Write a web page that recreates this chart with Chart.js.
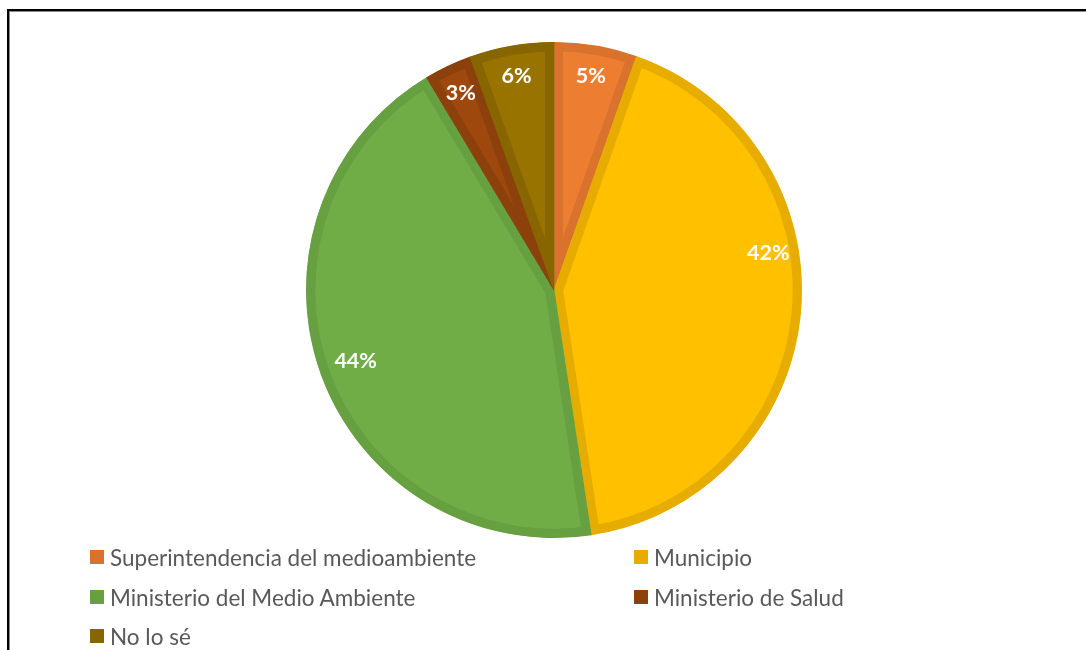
<!DOCTYPE html>
<html>
<head>
<meta charset="utf-8">
<script src="https://cdn.jsdelivr.net/npm/chart.js@4.4.1/dist/chart.umd.min.js"></script>
<style>
  html, body { margin:0; padding:0; background:#fff; }
  #wrap { position:relative; width:1086px; height:650px; overflow:hidden; }
  #frame { position:absolute; left:7px; top:9px; width:1200px; height:700px; border-left:2px solid #000; border-top:2px solid #000; box-shadow: 1px 1px 0 #888 inset; }
  #c { position:absolute; left:0; top:0; }
  #legend { position:absolute; left:0; top:0; width:1086px; height:650px; font-family: Lato, "Open Sans", sans-serif; font-size:22.5px; color:#595959; }
  .item { position:absolute; display:flex; align-items:center; white-space:nowrap; }
  .box { width:14px; height:14px; margin-right:6px; }
</style>
</head>
<body>
<div id="wrap">
  <div id="frame"></div>
  <canvas id="c" width="1086" height="580"></canvas>
  <div id="legend"></div>
</div>
<script>
const categories = ["Superintendencia del medioambiente", "Municipio", "Ministerio del Medio Ambiente", "Ministerio de Salud", "No lo sé"];
const values = [5.4, 42.2, 43.8, 3.1, 5.5];
const fillColors = ["#ED7D31", "#FFC000", "#70AD47", "#9E480E", "#997300"];
const borderColors = ["#D9722D", "#E6AD00", "#66A040", "#8C400C", "#876600"];
// where along each slice (0 = start, 1 = end) and how far out the label sits
const labelAngleFrac = [0.5, 0.4, 0.5, 0.5, 0.5];
const labelRadiusFrac = [0.877, 0.877, 0.85, 0.877, 0.877];

const labelPlugin = {
  id: 'pctLabels',
  afterDatasetsDraw(chart) {
    const ctx = chart.ctx;
    const meta = chart.getDatasetMeta(0);
    const total = values.reduce((a, b) => a + b, 0);
    ctx.save();
    ctx.fillStyle = '#ffffff';
    ctx.font = 'bold 21.5px Lato, "Open Sans", sans-serif';
    ctx.textAlign = 'center';
    ctx.textBaseline = 'middle';
    meta.data.forEach((arc, i) => {
      const p = arc.getProps(['x', 'y', 'startAngle', 'endAngle', 'outerRadius'], true);
      const a = p.startAngle + (p.endAngle - p.startAngle) * labelAngleFrac[i];
      const r = p.outerRadius * labelRadiusFrac[i];
      const x = p.x + Math.cos(a) * r;
      const y = p.y + Math.sin(a) * r;
      ctx.fillText(Math.round(values[i] / total * 100) + '%', x, y);
    });
    ctx.restore();
  }
};

const chart = new Chart(document.getElementById('c'), {
  type: 'pie',
  data: {
    labels: categories,
    datasets: [{
      data: values,
      backgroundColor: fillColors,
      borderColor: borderColors,
      borderWidth: 9,
      borderAlign: 'inner'
    }]
  },
  options: {
    responsive: false,
    animation: false,
    layout: { padding: { top: 42, bottom: 42, left: 22, right: 0 } },
    plugins: {
      legend: { display: false },
      tooltip: { enabled: false }
    }
  },
  plugins: [labelPlugin]
});

// HTML legend built from the chart data
const legendPos = [[90, 557], [634, 557], [90, 597], [634, 597], [90, 636]];
const legend = document.getElementById('legend');
categories.forEach((name, i) => {
  const it = document.createElement('div');
  it.className = 'item';
  it.style.left = legendPos[i][0] + 'px';
  it.style.top = (legendPos[i][1] - 13) + 'px';
  it.style.height = '26px';
  const b = document.createElement('span');
  b.className = 'box';
  b.style.background = borderColors[i];
  const t = document.createElement('span');
  t.textContent = name;
  it.appendChild(b); it.appendChild(t);
  legend.appendChild(it);
});
</script>
</body>
</html>
